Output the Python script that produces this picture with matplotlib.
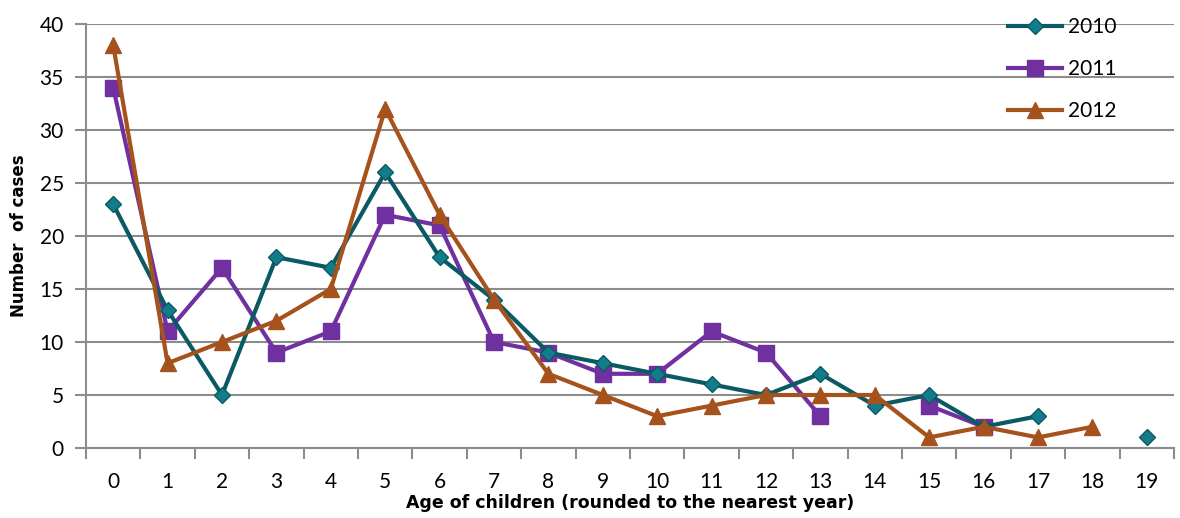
import numpy as np
import matplotlib
matplotlib.use("Agg")
import matplotlib.pyplot as plt
from matplotlib.ticker import MultipleLocator, FixedLocator

nan = np.nan
ages = list(range(20))
cases_2010 = [23, 13, 5, 18, 17, 26, 18, 14, 9, 8, 7, 6, 5, 7, 4, 5, 2, 3, nan, 1]
cases_2011 = [34, 11, 17, 9, 11, 22, 21, 10, 9, 7, 7, 11, 9, 3, nan, 4, 2, nan, nan, nan]
cases_2012 = [38, 8, 10, 12, 15, 32, 22, 14, 7, 5, 3, 4, 5, 5, 5, 1, 2, 1, 2, nan]

plt.rcParams['font.family'] = ['Lato', 'DejaVu Sans']

fig = plt.figure(figsize=(11.8, 5.18), dpi=100)
ax = fig.add_axes([86 / 1180, 70 / 518, 1088 / 1180, 424 / 518])

ax.plot(ages, cases_2010, color='#0B5A63', lw=3, marker='D', ms=8,
        mfc='#127C8A', mec='#0B5A63', mew=1, label='2010', zorder=4)
ax.plot(ages, cases_2011, color='#7030A0', lw=3, marker='s', ms=11,
        mfc='#7030A0', mec='#7030A0', label='2011', zorder=3)
ax.plot(ages, cases_2012, color='#A5521C', lw=3, marker='^', ms=12,
        mfc='#A5521C', mec='#A5521C', label='2012', zorder=5)

ax.set_xlim(-0.5, 19.5)
ax.set_ylim(0, 40)
ax.yaxis.set_major_locator(MultipleLocator(5))
ax.set_xticks(ages)
ax.xaxis.set_minor_locator(FixedLocator(np.arange(-0.5, 20, 1)))
ax.tick_params(axis='x', which='major', length=0, pad=17, labelsize=15)
ax.tick_params(axis='x', which='minor', length=8, width=1.5, color='#8C8C8C')
ax.tick_params(axis='y', length=8, width=1.5, color='#8C8C8C', labelsize=15, pad=8)

ax.grid(axis='y', color='#8C8C8C', lw=1.5, zorder=0)
ax.set_axisbelow(True)
for s in ['top', 'right']:
    ax.spines[s].set_visible(False)
for s in ['left', 'bottom']:
    ax.spines[s].set_color('#8C8C8C')
    ax.spines[s].set_linewidth(1.5)

ax.set_ylabel('Number  of cases', fontsize=12, fontweight='bold',
              family='DejaVu Sans', labelpad=8)
ax.set_xlabel('Age of children (rounded to the nearest year)', fontsize=12.5,
              fontweight='bold', family='DejaVu Sans', labelpad=2)

leg = ax.legend(loc='upper left', bbox_to_anchor=(0.83, 1.06), frameon=False,
                fontsize=15, handlelength=2.6, labelspacing=1.05, handletextpad=0.3)

fig.savefig('out.png', dpi=100)
